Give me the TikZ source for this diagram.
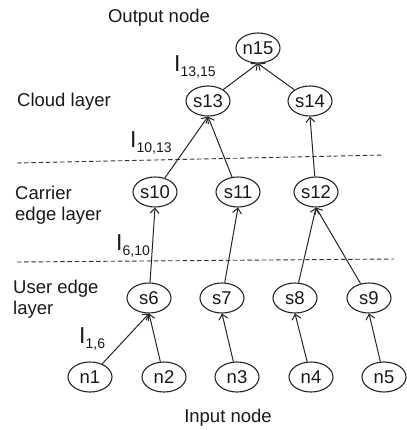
\documentclass[tikz,border=0pt]{standalone}
\usepackage{fontspec}
\setmainfont{Liberation Sans}
\usetikzlibrary{shapes.geometric,arrows.meta}
\newcommand{\Ilab}[1]{{\fontsize{23}{23}\selectfont I}\raisebox{-5pt}{\fontsize{14}{14}\selectfont #1}}
\begin{document}
\begin{tikzpicture}[x=1pt,y=-1pt,
  nd/.style={ellipse,draw=black!85,line width=1.1pt,minimum width=44pt,minimum height=30pt,inner sep=0pt,font=\fontsize{18.5}{18.5}\selectfont,text=black!90},
  txt/.style={font=\fontsize{18.5}{21}\selectfont,text=black!90,align=left,inner sep=0pt},
  lbl/.style={text=black!90,inner sep=0pt,anchor=base west},
  arr/.style={draw=black!85,line width=1pt,-{Straight Barb[length=5pt,width=9pt]}},
  sep/.style={draw=black!80,line width=0.9pt,dash pattern=on 4.5pt off 2.7pt}]
\useasboundingbox (0,0) rectangle (406,430);
% nodes
\node[nd] (n15) at (258,48) {n15};
\node[nd] (s13) at (208,101) {s13};
\node[nd] (s14) at (310,101) {s14};
\node[nd] (s10) at (155,192) {s10};
\node[nd] (s11) at (238,192) {s11};
\node[nd] (s12) at (316,192) {s12};
\node[nd] (s6) at (149,298) {s6};
\node[nd] (s7) at (222,298) {s7};
\node[nd] (s8) at (295,298) {s8};
\node[nd] (s9) at (369,298) {s9};
\node[nd] (n1) at (90,377) {n1};
\node[nd] (n2) at (164,377) {n2};
\node[nd] (n3) at (237,377) {n3};
\node[nd] (n4) at (311,377) {n4};
\node[nd] (n5) at (384,377) {n5};
% texts
\node[txt,anchor=base] (out) at (159,23) {Output node};
\node[txt,anchor=base] (inp) at (228,422) {Input node};
\node[txt,anchor=base west] (cloud) at (17,107) {Cloud layer};
\node[txt,anchor=north west] (carrier) at (15,186) {Carrier\\edge layer};
\node[txt,anchor=north west] (user) at (13,280) {User edge\\layer};
% labels
\node[lbl] (l1315) at (174,72) {\Ilab{13,15}};
\node[lbl] (l1013) at (130,148) {\Ilab{10,13}};
\node[lbl] (l610) at (116,250) {\Ilab{6,10}};
\node[lbl] (l16) at (79,343) {\Ilab{1,6}};
% separators
\coordinate (d1a) at (17,163); \coordinate (d1b) at (384,155);
\coordinate (d2a) at (17,262); \coordinate (d2b) at (394,259);
\draw[sep] (d1a) -- (d1b);
\draw[sep] (d2a) -- (d2b);
% connectors
\draw[arr] (n1) -- (s6.south);
\draw[arr] (n2) -- (s6.south);
\draw[arr] (n3) -- (s7.south);
\draw[arr] (n4) -- (s8.south);
\draw[arr] (n5) -- (s9.south);
\draw[arr] (s6) -- (s10.south);
\draw[arr] (s7) -- (s11.south);
\draw[arr] (s8) -- (s12.south);
\draw[arr] (s9) -- (s12.south);
\draw[arr] (s10) -- (s13.south);
\draw[arr] (s11) -- (s13.south);
\draw[arr] (s12) -- (s14.south);
\draw[arr] (s13) -- (n15.south);
\draw[arr] (s14) -- (n15.south);
\end{tikzpicture}
\end{document}
